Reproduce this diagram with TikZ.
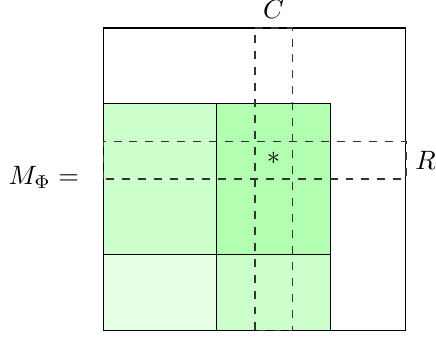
\documentclass[tikz,border=0pt]{standalone}
\begin{document}
\begin{tikzpicture}[x=0.5cm,y=0.5cm,
  blk/.style={draw=black},
  band/.style={draw=black!80,dashed,line width=0.6pt}]
\useasboundingbox (-2.738,-0.148) rectangle (8.796,8.741);
\fill[blk,fill=green!20] (0,2) rectangle (3,6);
\fill[blk,fill=green!30] (3,2) rectangle (6,6);
\fill[blk,fill=green!10] (0,0) rectangle (3,2);
\fill[blk,fill=green!20] (3,0) rectangle (6,2);
\draw[blk] (0,2) rectangle (3,6);
\draw[blk] (3,2) rectangle (6,6);
\draw[blk] (0,0) rectangle (3,2);
\draw[blk] (3,0) rectangle (6,2);
\draw[blk] (0,0) rectangle (8,8);
\draw[band] (4,0) rectangle (5,8);
\draw[band] (0,4) rectangle (8,5);
\node (star) at (4.5,4.55) {$*$};
\node[above] (C) at (4.5,8) {$C$};
\node[right] (R) at (8,4.5) {$R$};
\node[left] (M) at (-0.4,4.05) {$M_\Phi =$};
\end{tikzpicture}
\end{document}
